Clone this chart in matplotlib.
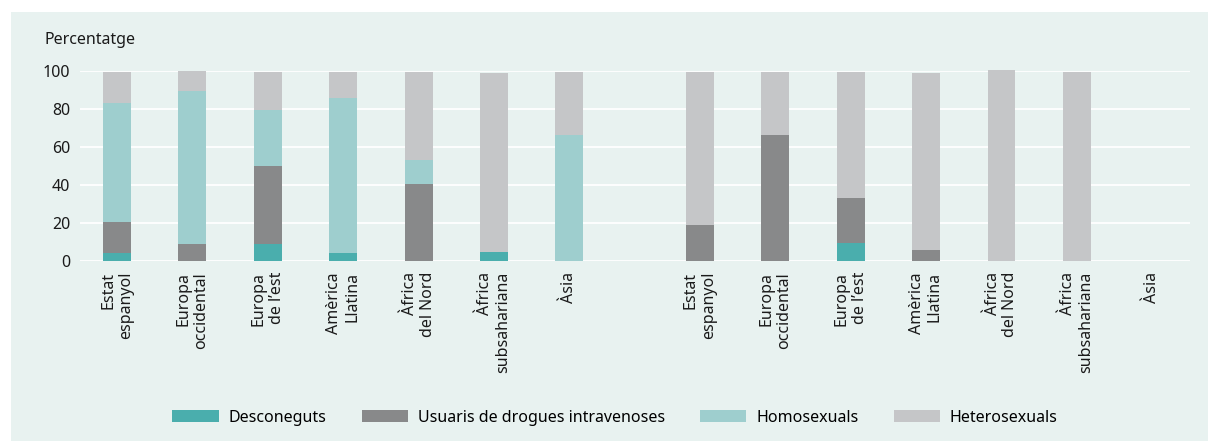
import numpy as np
import matplotlib
matplotlib.use("Agg")
import matplotlib.pyplot as plt
from matplotlib.patches import Rectangle

plt.rcParams['font.family'] = ['Noto Sans', 'DejaVu Sans']

# categories (two groups of seven regions)
regions = ["Estat\nespanyol", "Europa\noccidental", "Europa\nde l\u2019est", "Am\u00e8rica\nLlatina",
           "\u00c0frica\ndel Nord", "\u00c0frica\nsubsahariana", "\u00c0sia"]
labels = regions + regions

# series values, percent (group 1 then group 2)
desconeguts = [4, 0, 9, 4, 0, 4.5, 0,
               0, 0, 9.5, 0, 0, 0, 0]
usuaris_drogues = [16.5, 9, 41, 0, 40.5, 0, 0,
                   19, 66, 23.5, 6, 0, 0, 0]
homosexuals = [62.5, 80.5, 29.5, 81.5, 12.5, 0, 66,
               0, 0, 0, 0, 0, 0, 0]
heterosexuals = [16.5, 10.5, 20, 14, 46.5, 94.5, 33.5,
                 80.5, 33.5, 66.5, 93, 100.3, 99.5, 0]

series = [("Desconeguts", desconeguts, "#4aaead"),
          ("Usuaris de drogues intravenoses", usuaris_drogues, "#88898a"),
          ("Homosexuals", homosexuals, "#9ecece"),
          ("Heterosexuals", heterosexuals, "#c5c6c8")]

bg = "#e8f2f0"
fig = plt.figure(figsize=(12.08, 4.41), dpi=100, facecolor="white")
fig.patches.append(Rectangle((11 / 1208, 0), 1, 1 - 12 / 441, transform=fig.transFigure,
                             facecolor=bg, edgecolor="none", zorder=-10))

ax = fig.add_axes([80 / 1208, (441 - 261) / 441, 1110 / 1208, 190.3 / 441])
ax.set_facecolor("none")

x = np.concatenate([np.arange(7), 7.73 + np.arange(7)])
bottom = np.zeros(len(x))
for name, vals, col in series:
    vals = np.array(vals, dtype=float)
    ax.bar(x, vals, width=0.37, bottom=bottom, color=col, label=name,
           zorder=3, clip_on=False, linewidth=0)
    bottom += vals

ax.set_xlim(-0.491, 14.23)
ax.set_ylim(0, 100)
ax.set_yticks(range(0, 101, 20))
ax.yaxis.grid(True, color="white", linewidth=1.3, zorder=1)
ax.set_axisbelow(True)
for s in ax.spines.values():
    s.set_visible(False)
ax.tick_params(axis="both", length=0, labelsize=11.5, colors="#1a1a1a")
ax.tick_params(axis="y", pad=7)
ax.tick_params(axis="x", pad=8)
ax.set_xticks(x)
ax.set_xticklabels(labels, rotation=90, ha="center", va="top", multialignment="right",
                   fontsize=11.5, linespacing=1.15)

fig.text(45 / 1208, (441 - 40) / 441, "Percentatge", fontsize=11.5, color="#1a1a1a",
         ha="left", va="center")

leg = fig.legend(loc="center", bbox_to_anchor=(615 / 1208, (441 - 417.5) / 441), ncol=4,
                 frameon=False, fontsize=11.5, handlelength=2.9, handleheight=0.7,
                 handletextpad=0.62, columnspacing=2.2)

fig.savefig("out.png", dpi=100, facecolor=fig.get_facecolor())
